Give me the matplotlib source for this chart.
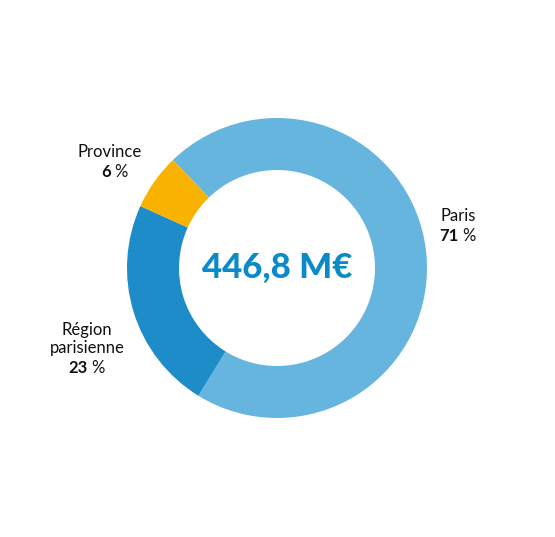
import matplotlib.pyplot as plt

labels = ["Paris", "Région\nparisienne", "Province"]
shares = [71, 23, 6]
colors = ["#66b5de", "#1e8cc8", "#f9b200"]
total_label = "446,8 M€"

W, H = 555, 537
cx, cy = 277, H - 268
r_out = 150
ring = 52

fig = plt.figure(figsize=(W / 100, H / 100), dpi=100)
ax = fig.add_axes([0, 0, 1, 1])
ax.set_xlim(0, W)
ax.set_ylim(0, H)
ax.set_aspect("equal")
ax.axis("off")

ax.pie(shares, colors=colors, startangle=134, counterclock=False,
       center=(cx, cy), radius=r_out,
       wedgeprops=dict(width=ring, edgecolor="none"))
ax.set_xlim(0, W)
ax.set_ylim(0, H)

ax.text(cx, cy, total_label, ha="center", va="center", fontsize=25,
        fontweight=900, color="#0a8ac6", family="Lato")

# label positions (pixel coords from top)
pos = [(458, 216), (87, 339), (110, 152)]
for lab, val, (x, y) in zip(labels, shares, pos):
    ax.text(x, H - y, lab, ha="center", va="center", fontsize=12,
            family="Lato", color="#111111", linespacing=1.15)
    nlines = lab.count("\n") + 1
    yv = H - y - 9 * nlines - 11
    ax.text(x + 1, yv, f"{val}", ha="right", va="center",
            fontsize=12, family="Lato", fontweight="bold", color="#111111")
    ax.text(x + 4, yv, "%", ha="left", va="center",
            fontsize=12, family="Lato", color="#111111")

fig.savefig("out.png", dpi=100)
